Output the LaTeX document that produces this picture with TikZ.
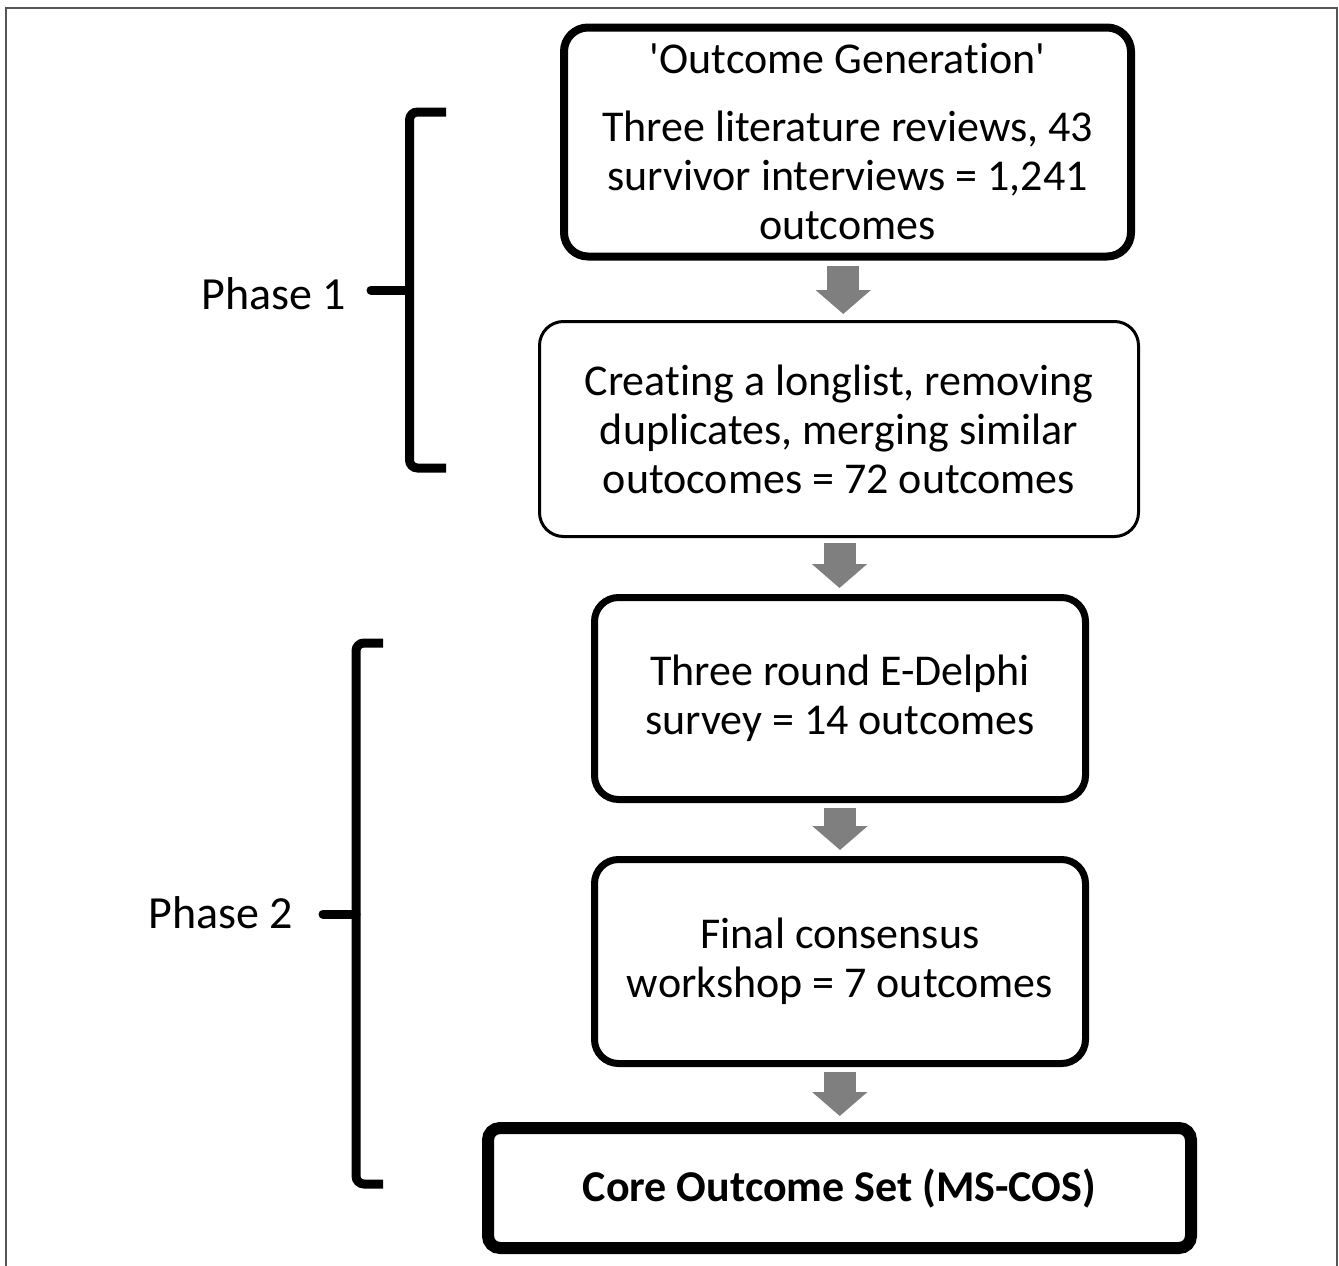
\documentclass[tikz,border=0pt]{standalone}
\usepackage{fontspec}
\setmainfont{Carlito}[Ligatures=NoCommon]
\usetikzlibrary{arrows.meta,calc}
\definecolor{arrowgray}{HTML}{7F7F7F}
\definecolor{framegray}{HTML}{555555}
\tikzset{
  box/.style={draw=black, rectangle, rounded corners=24pt, inner sep=0pt, align=center,
    font=\fontsize{44}{49}\selectfont},
  blockarrow/.style={draw=arrowgray, line width=32pt, -{Triangle[width=54pt,length=24pt]}},
  bracketline/.style={draw=black, line width=9pt, rounded corners=8pt},
  phaselabel/.style={inner sep=0pt, font=\fontsize{46}{50}\selectfont}
}
\begin{document}
\begin{tikzpicture}[x=1pt,y=-1pt]
\useasboundingbox (0,0) rectangle (1339,1266);
\fill[white] (0,0) rectangle (1339,1266);
% frame
\draw[framegray, line width=2pt] (6,1266) -- (6,8) -- (1337,8) -- (1337,1266);

% boxes
\node[box, line width=8pt, minimum width=567pt, minimum height=229pt] (b1) at (847.5,142)
  {\textquotesingle Outcome Generation\textquotesingle\\[19pt]Three literature reviews, 43\\survivor interviews = 1,241\\outcomes};
\node[box, line width=3pt, minimum width=599pt, minimum height=215pt] (b2) at (839,429)
  {Creating a longlist, removing\\duplicates, merging similar\\outocomes = 72 outcomes};
\node[box, line width=7pt, minimum width=491pt, minimum height=202pt] (b3) at (840,698.5)
  {Three round E-Delphi\\survey = 14 outcomes};
\node[box, line width=7pt, minimum width=491pt, minimum height=204pt] (b4) at (840,961.5)
  {Final consensus\\workshop = 7 outcomes};
\node[box, line width=12pt, rounded corners=12pt, minimum width=703pt, minimum height=120pt] (b5) at (839.5,1188)
  {\bfseries Core Outcome Set (MS-COS)};

% block arrows
\foreach \a/\b in {b1/b2, b2/b3, b3/b4, b4/b5}{
  \draw[blockarrow] let \p1=(\a.south), \p2=(\b.north) in
    ({(\x1+\x2)/2},{\y1-5pt}) -- ({(\x1+\x2)/2},{\y2+6pt});
}

% phase 1 bracket
\coordinate (p1top) at (446,112);
\coordinate (p1bot) at (446,468);
\coordinate (p1mid) at (409.5,290);
\coordinate (p1tick) at (371,290);
\draw[bracketline] (p1top) -- (409.5,112) -- (409.5,468) -- (p1bot);
\draw[black, line width=9pt, line cap=round] (p1tick) -- (p1mid);
\node[phaselabel, anchor=base east] (ph1) at (346,309) {Phase 1};

% phase 2 bracket
\coordinate (p2top) at (383,643);
\coordinate (p2bot) at (383,1184);
\coordinate (p2mid) at (356,914);
\coordinate (p2tick) at (323,914);
\draw[bracketline] (p2top) -- (356,643) -- (356,1184) -- (p2bot);
\draw[black, line width=9pt, line cap=round] (p2tick) -- (p2mid);
\node[phaselabel, anchor=base east] (ph2) at (293,928) {Phase 2};
\end{tikzpicture}
\end{document}
